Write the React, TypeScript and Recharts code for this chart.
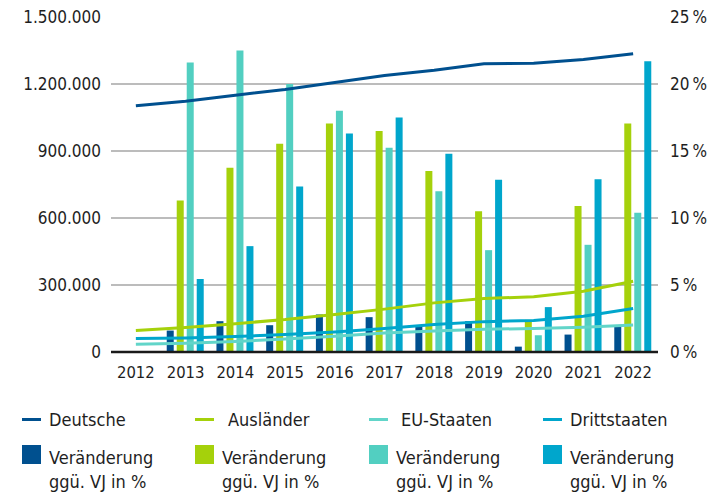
import React from 'react';
import { ComposedChart, Bar, Line, XAxis, YAxis, CartesianGrid } from 'recharts';

const years = ['2012', '2013', '2014', '2015', '2016', '2017', '2018', '2019', '2020', '2021', '2022'];
const deutsche = [1103000, 1123000, 1150000, 1175000, 1207000, 1238000, 1262000, 1291000, 1293000, 1310000, 1335000];
const auslaender = [96000, 110000, 127000, 145000, 168000, 192000, 220000, 240000, 247000, 272000, 317000];
const euStaaten = [35000, 39000, 47000, 58000, 70000, 85000, 94000, 102000, 105000, 111000, 121000];
const drittstaaten = [60000, 63000, 69000, 78000, 90000, 105000, 123000, 136000, 141000, 160000, 195000];
const vDeutsche = [null, 1.6, 2.3, 2.0, 2.8, 2.6, 1.9, 2.3, 0.4, 1.3, 1.9];
const vAuslaender = [null, 11.3, 13.75, 15.55, 17.05, 16.5, 13.5, 10.5, 2.4, 10.9, 17.05];
const vEu = [null, 21.6, 22.5, 20.0, 18.0, 15.25, 12.0, 7.6, 1.25, 8.0, 10.4];
const vDritt = [null, 5.45, 7.9, 12.35, 16.3, 17.5, 14.8, 12.85, 3.35, 12.9, 21.7];

const leftTicks = [0, 300000, 600000, 900000, 1200000, 1500000];
const gridValues = [300000, 600000, 900000, 1200000];
const rightTicks = [0, 5, 10, 15, 20, 25];

const C_DARK = '#00508F';
const C_GREEN = '#A5D10B';
const C_TEAL = '#52CFC1';
const C_BLUE = '#00A6CC';
const C_TEAL_LINE = '#62D5C9';

const data = years.map((y, i) => ({
  year: y,
  deutsche: deutsche[i],
  auslaender: auslaender[i],
  eu: euStaaten[i],
  dritt: drittstaaten[i],
  vDeutsche: vDeutsche[i],
  vAuslaender: vAuslaender[i],
  vEu: vEu[i],
  vDritt: vDritt[i],
}));

const FONT = '"DejaVu Sans Condensed", "DejaVu Sans", sans-serif';
const TXT = '#1e1e1e';

const fmtLeft = (v: number) => v.toLocaleString('de-DE');
const fmtRight = (v: number) => `${v}\u2009%`;

const lineLegend = [
  { label: 'Deutsche', color: C_DARK, icon: 22, text: 49 },
  { label: 'Ausländer', color: C_GREEN, icon: 195, text: 228 },
  { label: 'EU-Staaten', color: C_TEAL_LINE, icon: 369, text: 401 },
  { label: 'Drittstaaten', color: C_BLUE, icon: 543, text: 570 },
];
const barLegend = [
  { color: C_DARK, icon: 22, text: 49 },
  { color: C_GREEN, icon: 195, text: 222 },
  { color: C_TEAL, icon: 369, text: 396 },
  { color: C_BLUE, icon: 543, text: 570 },
];

export default function App() {
  return (
    <div style={{ position: 'absolute', left: 0, top: 0, width: 714, height: 492, background: '#fff', fontFamily: FONT, color: TXT }}>
      <ComposedChart
        width={714}
        height={400}
        data={data}
        margin={{ top: 17, right: 0, bottom: 0, left: 0 }}
        barSize={7}
        barGap={3}
      >
        <CartesianGrid yAxisId="left" vertical={false} horizontalValues={gridValues} stroke="#a6a6a6" strokeWidth={1.5} />
        <XAxis
          dataKey="year"
          axisLine={{ stroke: '#1a1a1a', strokeWidth: 2.5 }}
          tickLine={false}
          tickSize={0}
          tickMargin={14}
          height={48}
          interval={0}
          tick={{ fill: TXT, fontSize: 16.5, fontFamily: FONT }}
        />
        <YAxis
          yAxisId="left"
          orientation="left"
          width={111}
          domain={[0, 1500000]}
          ticks={leftTicks}
          tickFormatter={fmtLeft}
          axisLine={false}
          tickLine={false}
          tickSize={0}
          tickMargin={10}
          tick={{ fill: TXT, fontSize: 17, fontFamily: FONT }}
        />
        <YAxis
          yAxisId="right"
          orientation="right"
          width={56}
          domain={[0, 25]}
          ticks={rightTicks}
          tickFormatter={fmtRight}
          axisLine={false}
          tickLine={false}
          tickSize={0}
          tickMargin={12}
          tick={{ fill: TXT, fontSize: 17, fontFamily: FONT }}
        />
        <Bar yAxisId="right" dataKey="vDeutsche" fill={C_DARK} isAnimationActive={false} />
        <Bar yAxisId="right" dataKey="vAuslaender" fill={C_GREEN} isAnimationActive={false} />
        <Bar yAxisId="right" dataKey="vEu" fill={C_TEAL} isAnimationActive={false} />
        <Bar yAxisId="right" dataKey="vDritt" fill={C_BLUE} isAnimationActive={false} />
        <Line yAxisId="left" type="linear" dataKey="deutsche" stroke={C_DARK} strokeWidth={3} dot={false} isAnimationActive={false} />
        <Line yAxisId="left" type="linear" dataKey="auslaender" stroke={C_GREEN} strokeWidth={3} dot={false} isAnimationActive={false} />
        <Line yAxisId="left" type="linear" dataKey="eu" stroke={C_TEAL_LINE} strokeWidth={3} dot={false} isAnimationActive={false} />
        <Line yAxisId="left" type="linear" dataKey="dritt" stroke={C_BLUE} strokeWidth={3} dot={false} isAnimationActive={false} />
      </ComposedChart>
      {lineLegend.map((it) => (
        <React.Fragment key={it.label}>
          <div style={{ position: 'absolute', left: it.icon, top: 418, width: 19, height: 3, background: it.color }} />
          <div style={{ position: 'absolute', left: it.text, top: 408, fontSize: 18, lineHeight: '24px', whiteSpace: 'nowrap' }}>{it.label}</div>
        </React.Fragment>
      ))}
      {barLegend.map((it, i) => (
        <React.Fragment key={i}>
          <div style={{ position: 'absolute', left: it.icon, top: 445, width: 19, height: 19, background: it.color }} />
          <div style={{ position: 'absolute', left: it.text, top: 446, fontSize: 18, lineHeight: '24px', whiteSpace: 'nowrap' }}>
            Veränderung
            <br />
            ggü. VJ in %
          </div>
        </React.Fragment>
      ))}
    </div>
  );
}
